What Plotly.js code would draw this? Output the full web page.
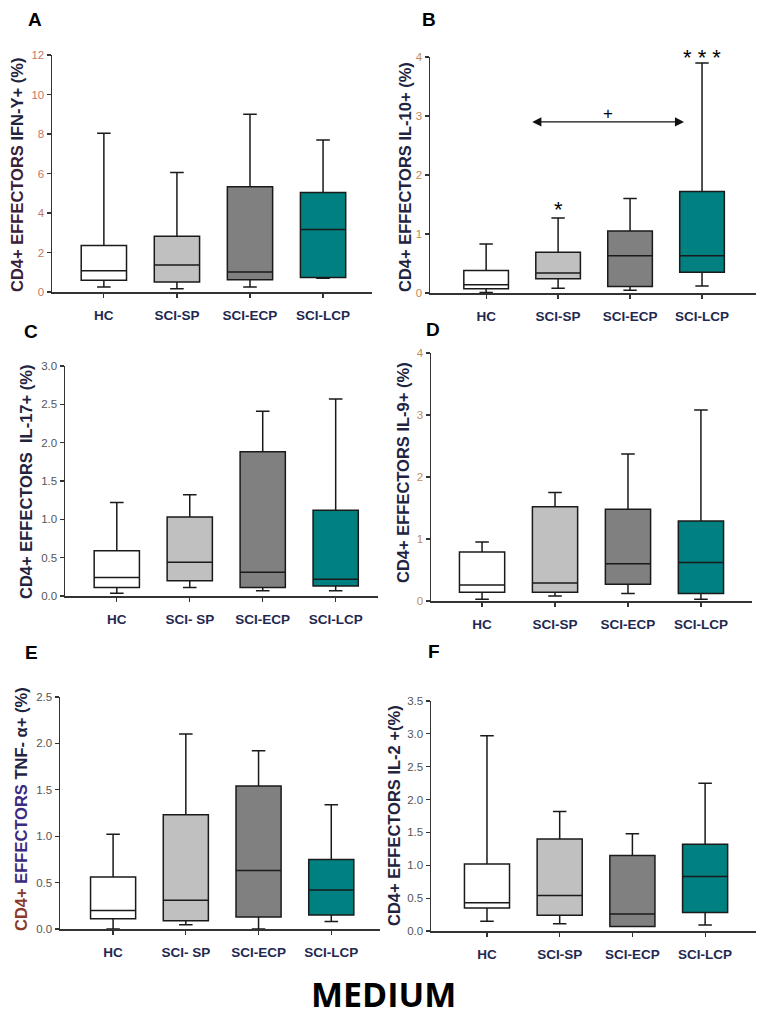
<!DOCTYPE html>
<html>
<head>
<meta charset="utf-8">
<script src="https://cdn.plot.ly/plotly-3.0.1.min.js"></script>
<style>html,body{margin:0;padding:0;background:#fff;}#chart{width:765px;height:1016px;}</style>
</head>
<body>
<div id="chart"></div>
<script>
// ---- data ----
const categories = ['HC', 'SCI-SP', 'SCI-ECP', 'SCI-LCP'];
const tickLabelsStd = ['HC', 'SCI-SP', 'SCI-ECP', 'SCI-LCP'];
const tickLabelsAlt = ['HC', 'SCI- SP', 'SCI-ECP', 'SCI-LCP'];
const boxColors = ['#ffffff', '#c0c0c0', '#808080', '#008080'];

// Panel A: IFN-γ
const ifnLow = [0.25, 0.17, 0.25, 0.69];
const ifnQ1 = [0.59, 0.51, 0.62, 0.74];
const ifnMed = [1.08, 1.37, 1.01, 3.17];
const ifnQ3 = [2.36, 2.82, 5.33, 5.04];
const ifnHigh = [8.04, 6.05, 9.0, 7.7];

// Panel B: IL-10
const il10Low = [0.01, 0.08, 0.045, 0.12];
const il10Q1 = [0.07, 0.24, 0.11, 0.35];
const il10Med = [0.14, 0.34, 0.63, 0.63];
const il10Q3 = [0.38, 0.69, 1.05, 1.72];
const il10High = [0.83, 1.27, 1.6, 3.9];

// Panel C: IL-17
const il17Low = [0.035, 0.11, 0.07, 0.07];
const il17Q1 = [0.11, 0.2, 0.11, 0.13];
const il17Med = [0.24, 0.44, 0.31, 0.22];
const il17Q3 = [0.59, 1.03, 1.88, 1.12];
const il17High = [1.22, 1.32, 2.41, 2.57];

// Panel D: IL-9
const il9Low = [0.03, 0.08, 0.12, 0.03];
const il9Q1 = [0.14, 0.14, 0.27, 0.12];
const il9Med = [0.26, 0.29, 0.6, 0.62];
const il9Q3 = [0.79, 1.52, 1.48, 1.29];
const il9High = [0.95, 1.75, 2.37, 3.08];

// Panel E: TNF-α
const tnfLow = [0.0, 0.047, 0.0, 0.08];
const tnfQ1 = [0.11, 0.09, 0.13, 0.15];
const tnfMed = [0.2, 0.31, 0.63, 0.42];
const tnfQ3 = [0.56, 1.23, 1.54, 0.75];
const tnfHigh = [1.02, 2.1, 1.92, 1.34];

// Panel F: IL-2
const il2Low = [0.15, 0.11, 0.07, 0.09];
const il2Q1 = [0.35, 0.24, 0.07, 0.28];
const il2Med = [0.43, 0.54, 0.26, 0.83];
const il2Q3 = [1.02, 1.4, 1.15, 1.32];
const il2High = [2.97, 1.82, 1.48, 2.25];

const yTitles = [
  '<span style="color:#3b2038">CD4+ EFFECTORS</span> IFN-Y+ (%)',
  'CD4+ EFFECTORS IL-10+ (%)',
  'CD4+ EFFECTORS  IL-17+ (%)',
  'CD4+ EFFECTORS IL-9+ (%)',
  '<span style="color:#8a3a2a">CD4+</span> <span style="color:#3a2a80">EFFECTORS</span> TNF- α+ (%)',
  'CD4+ EFFECTORS IL-2 +(%)'
];
const panelLetters = ['A', 'B', 'C', 'D', 'E', 'F'];
const mainTitle = 'MEDIUM';

// ---- layout config (positions/styles) ----
const W = 765, H = 1016;
const panels = [
  {stats: [ifnLow, ifnQ1, ifnMed, ifnQ3, ifnHigh], px: [52, 372], py: [55, 292], yr: [0, 12], dtick: 2, fmt: 'd', xr: [-0.71, 3.67], ticks: tickLabelsStd, tickColor: '#c07868', title: [17, 175], letter: [35, 20]},
  {stats: [il10Low, il10Q1, il10Med, il10Q3, il10High], px: [430, 756], py: [57, 293], yr: [0, 4], dtick: 1, fmt: 'd', xr: [-0.78, 3.75], ticks: tickLabelsStd, tickColor: '#c08a60', title: [405, 177], letter: [429, 20]},
  {stats: [il17Low, il17Q1, il17Med, il17Q3, il17High], px: [65, 378], py: [366, 596], yr: [0, 3], dtick: 0.5, fmt: '.1f', xr: [-0.71, 3.58], ticks: tickLabelsAlt, tickColor: '#555555', title: [26, 482], letter: [31, 331]},
  {stats: [il9Low, il9Q1, il9Med, il9Q3, il9High], px: [431, 752], py: [353, 601], yr: [0, 4], dtick: 1, fmt: 'd', xr: [-0.70, 3.70], ticks: tickLabelsStd, tickColor: '#c08a60', title: [403, 473], letter: [433, 329]},
  {stats: [tnfLow, tnfQ1, tnfMed, tnfQ3, tnfHigh], px: [60, 380], py: [697, 929], yr: [0, 2.5], dtick: 0.5, fmt: '.1f', xr: [-0.73, 3.67], ticks: tickLabelsAlt, tickColor: '#555555', title: [21, 809], letter: [32, 652]},
  {stats: [il2Low, il2Q1, il2Med, il2Q3, il2High], px: [431, 756], py: [701, 931], yr: [0, 3.5], dtick: 0.5, fmt: '.1f', xr: [-0.77, 3.70], ticks: tickLabelsStd, tickColor: '#555555', title: [394, 815], letter: [434, 651]}
];

const font = 'Liberation Sans, Arial, sans-serif';
const traces = [];
const layout = {
  width: W, height: H,
  margin: {l: 0, r: 0, t: 0, b: 0},
  paper_bgcolor: '#fff', plot_bgcolor: '#fff',
  showlegend: false, boxmode: 'overlay',
  annotations: [], shapes: []
};

panels.forEach((p, k) => {
  const n = k + 1;
  const xa = 'xaxis' + (n === 1 ? '' : n), ya = 'yaxis' + (n === 1 ? '' : n);
  const xr = 'x' + (n === 1 ? '' : n), yr = 'y' + (n === 1 ? '' : n);
  const [low, q1, med, q3, high] = p.stats;
  categories.forEach((c, i) => {
    traces.push({
      type: 'box', x: [c], lowerfence: [low[i]], q1: [q1[i]], median: [med[i]], q3: [q3[i]], upperfence: [high[i]],
      xaxis: xr, yaxis: yr, fillcolor: boxColors[i], line: {color: '#1a1a1a', width: 1.5},
      whiskerwidth: 0.3, width: 0.62, boxpoints: false, hoverinfo: 'skip', name: c
    });
  });
  layout[xa] = {
    domain: [p.px[0] / W, p.px[1] / W], anchor: yr, type: 'category',
    categoryorder: 'array', categoryarray: categories, range: p.xr,
    tickvals: categories, ticktext: p.ticks,
    showline: true, linecolor: '#333', linewidth: 1.5, ticks: 'outside', ticklen: 4, tickcolor: '#333', tickwidth: 1.2,
    showgrid: false, zeroline: false, ticklabelstandoff: 6,
    tickfont: {family: font, size: 13.5, color: '#1f2850', weight: 'bold'}
  };
  layout[ya] = {
    domain: [1 - p.py[1] / H, 1 - p.py[0] / H], anchor: xr, range: p.yr, dtick: p.dtick, tick0: 0,
    tickformat: p.fmt, showline: true, linecolor: '#333', linewidth: 1.5, ticks: 'outside', ticklen: 4,
    tickcolor: '#333', tickwidth: 1.2, showgrid: false, zeroline: false,
    tickfont: {family: font, size: 11.5, color: p.tickColor}
  };
  layout.annotations.push({
    xref: 'paper', yref: 'paper', x: p.title[0] / W, y: 1 - p.title[1] / H, xanchor: 'center', yanchor: 'middle',
    text: yTitles[k], textangle: -90, showarrow: false,
    font: {family: font, size: 16.5, color: '#22243f', weight: 'bold'}
  });
  layout.annotations.push({
    xref: 'paper', yref: 'paper', x: p.letter[0] / W, y: 1 - p.letter[1] / H, xanchor: 'center', yanchor: 'middle',
    text: panelLetters[k], showarrow: false, font: {family: font, size: 19, color: '#000', weight: 'bold'}
  });
});

// significance marks on panel B
layout.annotations.push(
  {xref: 'x2', yref: 'y2', x: 1, y: 1.42, text: '*', showarrow: false, yanchor: 'middle', font: {family: font, size: 22, color: '#000'}},
  {xref: 'x2', yref: 'paper', x: 3, y: 1 - 57 / H, text: '* * *', showarrow: false, yanchor: 'middle', font: {family: font, size: 22, color: '#000'}},
  {xref: 'x2', yref: 'y2', x: 1.7, y: 3.05, text: '+', showarrow: false, yanchor: 'middle', font: {family: font, size: 17, color: '#000'}},
  {xref: 'x2', yref: 'y2', axref: 'x2', ayref: 'y2', x: 2.75, y: 2.9, ax: 0.62, ay: 2.9, text: '', showarrow: true,
   arrowhead: 2, startarrowhead: 2, arrowside: 'end+start', arrowsize: 1.3, startarrowsize: 1.3, arrowwidth: 1.4, arrowcolor: '#111'}
);

// main title
layout.annotations.push({
  xref: 'paper', yref: 'paper', x: 383 / W, y: 1 - 994 / H, xanchor: 'center', yanchor: 'middle',
  text: mainTitle, showarrow: false, font: {family: 'Open Sans, sans-serif', size: 34, color: '#000', weight: 'bold'}
});

Plotly.newPlot('chart', traces, layout, {displayModeBar: false, staticPlot: true});
</script>
</body>
</html>
